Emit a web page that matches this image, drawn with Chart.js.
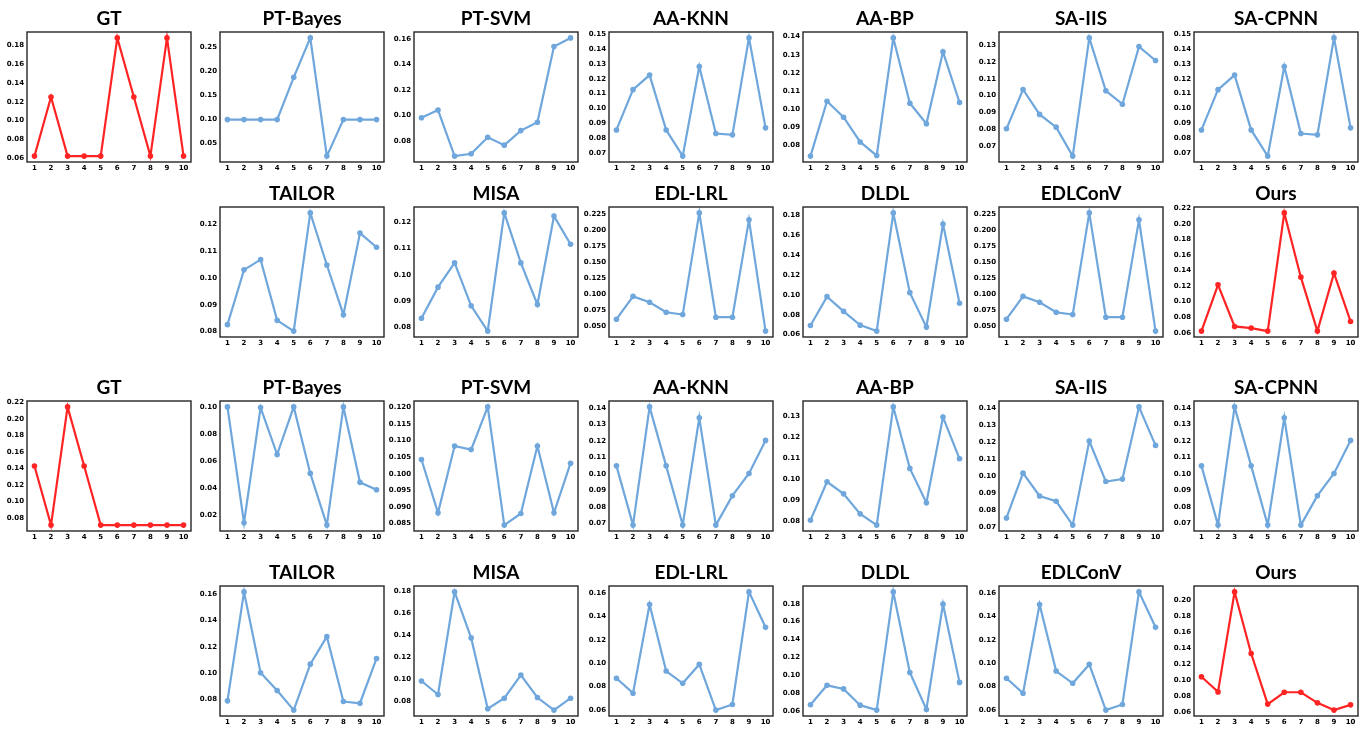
<!DOCTYPE html>
<html>
<head>
<meta charset="utf-8">
<script src="https://cdn.jsdelivr.net/npm/chart.js@4.4.1/dist/chart.umd.min.js"></script>
<style>
  html, body { margin: 0; padding: 0; background: #fff; }
  #wrap { position: relative; width: 1362px; height: 729px; overflow: hidden; }
  #wrap canvas { position: absolute; }
</style>
</head>
<body>
<div id="wrap"></div>
<script>
// label positions 1..10
const xLabels = [1, 2, 3, 4, 5, 6, 7, 8, 9, 10];

const methods = ['GT', 'PT-Bayes', 'PT-SVM', 'AA-KNN', 'AA-BP', 'SA-IIS', 'SA-CPNN',
                 'TAILOR', 'MISA', 'EDL-LRL', 'DLDL', 'EDLConV', 'Ours'];

// first sample (top two rows)
const gtA      = [0.0625, 0.125, 0.0625, 0.0625, 0.0625, 0.1875, 0.125, 0.0625, 0.1875, 0.0625];
const ptBayesA = [0.100, 0.100, 0.100, 0.100, 0.188, 0.270, 0.024, 0.100, 0.100, 0.100];
const ptSvmA   = [0.0984, 0.1044, 0.0683, 0.0701, 0.0831, 0.0769, 0.0883, 0.0949, 0.1543, 0.1610];
const aaKnnA   = [0.0856, 0.1127, 0.1225, 0.0856, 0.0680, 0.1283, 0.0832, 0.0823, 0.1475, 0.0870];
const aaBpA    = [0.0740, 0.1043, 0.0955, 0.0818, 0.0743, 0.1393, 0.1032, 0.0919, 0.1316, 0.1036];
const saIisA   = [0.0801, 0.1036, 0.0887, 0.0811, 0.0638, 0.1344, 0.1028, 0.0948, 0.1292, 0.1209];
const saCpnnA  = [0.0856, 0.1127, 0.1225, 0.0856, 0.0680, 0.1283, 0.0832, 0.0823, 0.1475, 0.0870];
const tailorA  = [0.0826, 0.1030, 0.1068, 0.0842, 0.0802, 0.1242, 0.1048, 0.0863, 0.1167, 0.1114];
const misaA    = [0.0835, 0.0953, 0.1045, 0.0882, 0.0786, 0.1235, 0.1045, 0.0887, 0.1223, 0.1116];
const edlLrlA  = [0.0613, 0.0968, 0.0876, 0.0721, 0.0685, 0.2265, 0.0644, 0.0644, 0.2157, 0.0428];
const dldlA    = [0.0693, 0.0983, 0.0835, 0.0696, 0.0636, 0.1826, 0.1023, 0.0676, 0.1714, 0.0917];
const edlConvA = [0.0613, 0.0968, 0.0876, 0.0721, 0.0685, 0.2265, 0.0644, 0.0644, 0.2157, 0.0428];
const oursA    = [0.0621, 0.1218, 0.0681, 0.0660, 0.0621, 0.2144, 0.1316, 0.0621, 0.1368, 0.0745];

// second sample (bottom two rows)
const gtB      = [0.1429, 0.0714, 0.2143, 0.1429, 0.0714, 0.0714, 0.0714, 0.0714, 0.0714, 0.0714];
const ptBayesB = [0.1000, 0.0146, 0.0995, 0.0649, 0.1000, 0.0510, 0.0129, 0.1000, 0.0444, 0.0390];
const ptSvmB   = [0.1043, 0.0882, 0.1084, 0.1073, 0.1202, 0.0845, 0.0880, 0.1084, 0.0882, 0.1032];
const aaKnnB   = [0.1049, 0.0690, 0.1406, 0.1049, 0.0690, 0.1340, 0.0690, 0.0868, 0.1003, 0.1203];
const aaBpB    = [0.0802, 0.0987, 0.0929, 0.0833, 0.0779, 0.1346, 0.1051, 0.0886, 0.1297, 0.1097];
const saIisB   = [0.0756, 0.1019, 0.0885, 0.0854, 0.0714, 0.1208, 0.0970, 0.0984, 0.1408, 0.1182];
const saCpnnB  = [0.1049, 0.0690, 0.1406, 0.1049, 0.0690, 0.1340, 0.0690, 0.0868, 0.1003, 0.1203];
const tailorB  = [0.0790, 0.1615, 0.1003, 0.0868, 0.0720, 0.1068, 0.1276, 0.0785, 0.0772, 0.1111];
const misaB    = [0.0986, 0.0863, 0.1794, 0.1377, 0.0734, 0.0830, 0.1040, 0.0836, 0.0722, 0.0830];
const edlLrlB  = [0.0870, 0.0742, 0.1503, 0.0932, 0.0827, 0.0989, 0.0597, 0.0645, 0.1611, 0.1307];
const dldlB    = [0.0670, 0.0888, 0.0848, 0.0666, 0.0611, 0.1933, 0.1032, 0.0618, 0.1796, 0.0921];
const edlConvB = [0.0870, 0.0742, 0.1503, 0.0932, 0.0827, 0.0989, 0.0597, 0.0645, 0.1611, 0.1307];
const oursB    = [0.1040, 0.0849, 0.2104, 0.1331, 0.0696, 0.0845, 0.0845, 0.0712, 0.0621, 0.0687];

const seriesA = [gtA, ptBayesA, ptSvmA, aaKnnA, aaBpA, saIisA, saCpnnA, tailorA, misaA, edlLrlA, dldlA, edlConvA, oursA];
const seriesB = [gtB, ptBayesB, ptSvmB, aaKnnB, aaBpB, saIisB, saCpnnB, tailorB, misaB, edlLrlB, dldlB, edlConvB, oursB];

// y tick spacing per panel
const yStepsA = [0.02, 0.05, 0.02, 0.01, 0.01, 0.01, 0.01, 0.01, 0.01, 0.025, 0.02, 0.025, 0.02];
const yStepsB = [0.02, 0.02, 0.005, 0.01, 0.01, 0.01, 0.01, 0.02, 0.02, 0.02, 0.02, 0.02, 0.02];

// layout of the grid
const COL_LEFT = [27, 220, 414, 609, 803, 999, 1194];
const ROW_TOP = [32, 207, 401, 586];
const BOX_W = 164, BOX_H = 130;
const Y_AXIS_W = 40, X_AXIS_H = 14, TITLE_H = 23, PAD_R = 6;

const BLUE = '#6fa7dc';
const RED = '#ff2424';
const tickFont = { family: 'DejaVu Sans', weight: 'bold', size: 7 };

const framePlugin = {
  id: 'frame',
  afterDatasetsDraw(chart) {
    const { ctx, chartArea: a } = chart;
    ctx.save();
    ctx.strokeStyle = '#262626';
    ctx.lineWidth = 1.4;
    ctx.strokeRect(a.left, a.top, a.right - a.left, a.bottom - a.top);
    ctx.restore();
  }
};

function makePanel(title, values, step, row, col) {
  const canvas = document.createElement('canvas');
  canvas.width = Y_AXIS_W + BOX_W + PAD_R;
  canvas.height = TITLE_H + BOX_H + X_AXIS_H;
  canvas.style.left = (COL_LEFT[col] - Y_AXIS_W) + 'px';
  canvas.style.top = (ROW_TOP[row] - TITLE_H) + 'px';
  document.getElementById('wrap').appendChild(canvas);

  // matplotlib-like 5% margins
  const lo = Math.min(...values), hi = Math.max(...values);
  const yMin = lo - (hi - lo) * 0.05, yMax = hi + (hi - lo) * 0.05;
  const xMin = xLabels[0] - (xLabels[9] - xLabels[0]) * 0.05;
  const xMax = xLabels[9] + (xLabels[9] - xLabels[0]) * 0.05;
  const decimals = Math.max(2, (String(step).split('.')[1] || '').length);
  const color = (title === 'GT' || title === 'Ours') ? RED : BLUE;

  new Chart(canvas, {
    type: 'line',
    data: {
      datasets: [{
        data: values.map((v, i) => ({ x: xLabels[i], y: v })),
        borderColor: color,
        backgroundColor: color,
        borderWidth: 2.2,
        pointRadius: 2.8,
        pointBorderWidth: 0,
        tension: 0,
        clip: false
      }]
    },
    options: {
      responsive: false,
      animation: false,
      layout: { padding: { left: 0, right: PAD_R, top: 0, bottom: 0 } },
      scales: {
        x: {
          type: 'linear',
          min: xMin,
          max: xMax,
          afterBuildTicks: (s) => { s.ticks = xLabels.map(v => ({ value: v })); },
          afterFit: (s) => { s.height = X_AXIS_H; },
          grid: { display: false, drawTicks: false },
          border: { display: false },
          ticks: { font: tickFont, color: '#000', padding: 2, autoSkip: false, maxRotation: 0,
                   callback: (v) => String(v) }
        },
        y: {
          type: 'linear',
          min: yMin,
          max: yMax,
          afterBuildTicks: (s) => {
            const t = [];
            const i0 = Math.ceil(yMin / step - 1e-9), i1 = Math.floor(yMax / step + 1e-9);
            for (let i = i0; i <= i1; i++) t.push({ value: i * step });
            s.ticks = t;
          },
          afterFit: (s) => { s.width = Y_AXIS_W; },
          grid: { display: false, drawTicks: false },
          border: { display: false },
          ticks: { font: tickFont, color: '#000', padding: 3, autoSkip: false,
                   callback: (v) => Number(v).toFixed(decimals) }
        }
      },
      plugins: {
        legend: { display: false },
        tooltip: { enabled: false },
        title: {
          display: true,
          text: title,
          fullSize: false,
          color: '#000',
          font: { family: 'Lato', weight: 'bold', size: 19, lineHeight: 1 },
          padding: { top: 0, bottom: TITLE_H - 19 }
        }
      }
    },
    plugins: [framePlugin]
  });
}

function placeSample(series, steps, firstRow) {
  methods.forEach((m, k) => {
    const row = k < 7 ? firstRow : firstRow + 1;
    const col = k < 7 ? k : k - 6;
    makePanel(m, series[k], steps[k], row, col);
  });
}

placeSample(seriesA, yStepsA, 0);
placeSample(seriesB, yStepsB, 2);
</script>
</body>
</html>
